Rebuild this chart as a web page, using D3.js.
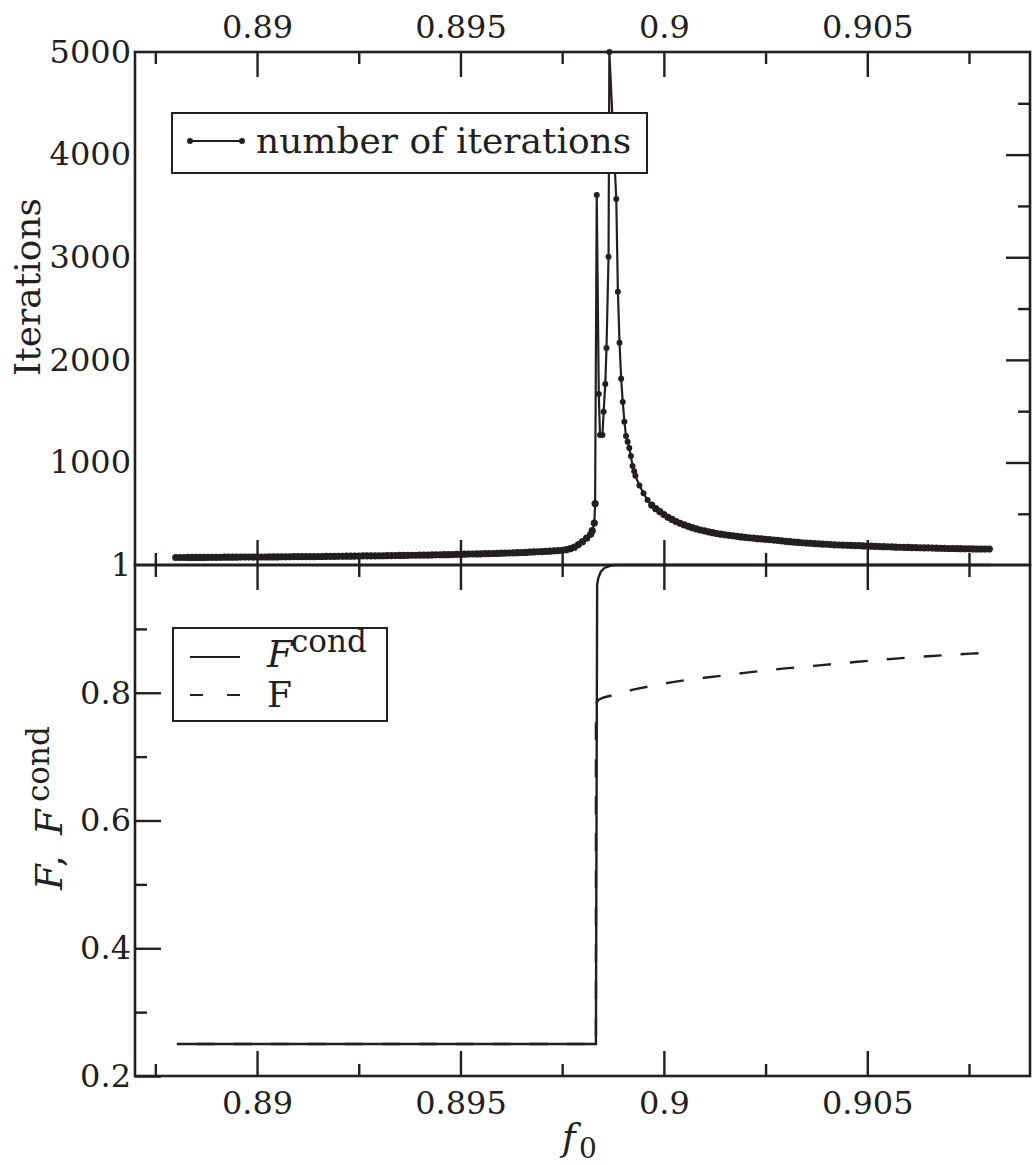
<!DOCTYPE html>
<html>
<head>
<meta charset="utf-8">
<script src="https://cdn.jsdelivr.net/npm/d3@7"></script>
<style>
  body { margin: 0; background: #fff; }
  svg text { font-family: "DejaVu Serif", serif; fill: #231f20; }
</style>
</head>
<body>
<div id="chart"></div>
<script>
// f0 positions of the iteration samples
var iterF0 = [
  0.8880, 0.8881, 0.8882, 0.8883, 0.8884, 0.8885, 0.8886, 0.8887, 0.8888, 0.8889,
  0.8890, 0.8891, 0.8892, 0.8893, 0.8894, 0.8895, 0.8896, 0.8897, 0.8898, 0.8899,
  0.8900, 0.8901, 0.8902, 0.8903, 0.8904, 0.8905, 0.8906, 0.8907, 0.8908, 0.8909,
  0.8910, 0.8911, 0.8912, 0.8913, 0.8914, 0.8915, 0.8916, 0.8917, 0.8918, 0.8919,
  0.8920, 0.8921, 0.8922, 0.8923, 0.8924, 0.8925, 0.8926, 0.8927, 0.8928, 0.8929,
  0.8930, 0.8931, 0.8932, 0.8933, 0.8934, 0.8935, 0.8936, 0.8937, 0.8938, 0.8939,
  0.8940, 0.8941, 0.8942, 0.8943, 0.8944, 0.8945, 0.8946, 0.8947, 0.8948, 0.8949,
  0.8950, 0.8951, 0.8952, 0.8953, 0.8954, 0.8955, 0.8956, 0.8957, 0.8958, 0.8959,
  0.8960, 0.8961, 0.8962, 0.8963, 0.8964, 0.8965, 0.8966, 0.8967, 0.8968, 0.8969,
  0.8970, 0.8971, 0.8972, 0.8973, 0.8974, 0.8975, 0.8976, 0.8977, 0.8978, 0.8979,
  0.8980, 0.8981, 0.8982, 0.89824, 0.89829, 0.89831,
  0.89835, 0.89840, 0.89843, 0.89849, 0.89852, 0.89856, 0.89859, 0.89864, 0.89866,
  0.89883, 0.89887, 0.89891, 0.89895, 0.89899, 0.89903, 0.89907, 0.89911, 0.89915,
  0.89919, 0.89923, 0.89927,
  0.8993, 0.8994, 0.8995, 0.8996, 0.8997, 0.8998, 0.8999,
  0.9000, 0.9001, 0.9002, 0.9003, 0.9004, 0.9005, 0.9006, 0.9007, 0.9008, 0.9009,
  0.9010, 0.9011, 0.9012, 0.9013, 0.9014, 0.9015, 0.9016, 0.9017, 0.9018, 0.9019,
  0.9020, 0.9021, 0.9022, 0.9023, 0.9024, 0.9025, 0.9026, 0.9027, 0.9028, 0.9029,
  0.9030, 0.9031, 0.9032, 0.9033, 0.9034, 0.9035, 0.9036, 0.9037, 0.9038, 0.9039,
  0.9040, 0.9041, 0.9042, 0.9043, 0.9044, 0.9045, 0.9046, 0.9047, 0.9048, 0.9049,
  0.9050, 0.9051, 0.9052, 0.9053, 0.9054, 0.9055, 0.9056, 0.9057, 0.9058, 0.9059,
  0.9060, 0.9061, 0.9062, 0.9063, 0.9064, 0.9065, 0.9066, 0.9067, 0.9068, 0.9069,
  0.9070, 0.9071, 0.9072, 0.9073, 0.9074, 0.9075, 0.9076, 0.9077, 0.9078, 0.9079,
  0.9080
];

// number of iterations at each f0 above
var iterCount = [
  74, 74, 74, 75, 75, 75, 75, 75, 76, 76,
  76, 76, 77, 77, 77, 77, 78, 78, 78, 78,
  79, 79, 79, 80, 80, 80, 81, 81, 81, 82,
  82, 82, 83, 83, 83, 84, 84, 85, 85, 85,
  86, 86, 87, 87, 88, 88, 89, 89, 90, 90,
  91, 91, 92, 92, 93, 94, 94, 95, 96, 96,
  97, 98, 98, 99, 100, 101, 102, 102, 103, 104,
  105, 106, 107, 108, 109, 110, 111, 112, 113, 114,
  116, 117, 118, 120, 121, 123, 124, 126, 128, 130,
  132, 134, 136, 139, 141, 144, 150, 160, 175, 200,
  228, 262, 300, 335, 410, 600,
  3606, 1667, 1267, 1267, 1494, 1764, 2115, 3005, 5000,
  3567, 2664, 2167, 1816, 1589, 1397, 1257, 1202, 1140,
  1062, 965, 915,
  870, 775, 700, 635, 585, 550, 522,
  492, 466, 445, 425, 408, 392, 378, 365, 353, 342,
  333, 324, 316, 308, 301, 295, 290, 285, 280, 275,
  270, 266, 262, 258, 255, 251, 248, 244, 240, 236,
  232, 228, 224, 221, 218, 215, 213, 210, 208, 205,
  203, 200, 198, 196, 195, 193, 192, 190, 189, 187,
  186, 184, 183, 181, 180, 178, 177, 175, 174, 173,
  172, 171, 170, 169, 168, 167, 166, 165, 164, 163,
  162, 162, 161, 160, 159, 159, 158, 157, 157, 156,
  156
];

// F^cond curve (solid)
var fcondF0 = [0.88803, 0.89833, 0.89836, 0.89839, 0.89845, 0.89854, 0.89866, 0.89879, 0.90804];
var fcondValues = [0.25, 0.25, 0.969, 0.980, 0.9895, 0.9953, 0.9984, 1.0, 1.0];

// F curve (dashed)
var fF0 = [0.88803, 0.89833, 0.89833, 0.89840, 0.89852, 0.89876, 0.89924, 0.89969, 0.90014,
  0.90059, 0.90104, 0.90153, 0.90198, 0.90243, 0.90292, 0.90337, 0.90382, 0.90427,
  0.90476, 0.90521, 0.90570, 0.90615, 0.90660, 0.90709, 0.90754, 0.90799];
var fValues = [0.25, 0.25, 0.7835, 0.789, 0.7926, 0.7965, 0.8049, 0.8105, 0.8158,
  0.8205, 0.8238, 0.8274, 0.8312, 0.8345, 0.8377, 0.8402, 0.8429, 0.8457,
  0.8485, 0.8510, 0.8535, 0.8557, 0.8575, 0.8596, 0.8612, 0.8628];

// tick values
var xMajorTicks = [0.89, 0.895, 0.9, 0.905];
var xMinorTicks = [0.8875, 0.8925, 0.8975, 0.9025, 0.9075];
var iterMajorTicks = [1, 1000, 2000, 3000, 4000, 5000];
var iterMinorTicks = [500, 1500, 2500, 3500, 4500];
var fMajorTicks = [0.2, 0.4, 0.6, 0.8];
var fMinorTicks = [0.3, 0.5, 0.7, 0.9];

function init() {
  var w = 1032;
  var h = 1165;
  var left = 135, right = 1030, top1 = 52, mid = 565, bottom2 = 1076;
  var ink = "#231f20";

  var svg = d3.select("#chart")
    .append("svg")
    .attr("width", w)
    .attr("height", h);

  //Set up Scales
  var xScale = d3.scaleLinear().domain([0.887, 0.909]).range([left, right]);
  var yIter = d3.scaleLinear().domain([1, 5000]).range([mid, top1]);
  var yF = d3.scaleLinear().domain([0.2, 1.0]).range([bottom2, mid]);

  function styleAxis(g, size) {
    g.select(".domain").remove();
    g.attr("font-family", null).attr("font-size", null).attr("color", ink);
    g.selectAll(".tick line").attr("stroke-width", 2.4);
    g.selectAll(".tick text").style("font-size", size + "px");
  }

  var fmt = function (d) { return String(d); };

  //Top axis (labels above, ticks inward)
  svg.append("g").attr("transform", "translate(0," + top1 + ")")
    .call(d3.axisTop(xScale).tickValues(xMajorTicks).tickSize(-25).tickPadding(14).tickFormat(fmt))
    .call(styleAxis, 32);
  svg.append("g").attr("transform", "translate(0," + top1 + ")")
    .call(d3.axisTop(xScale).tickValues(xMinorTicks).tickSize(-12).tickFormat(""))
    .call(styleAxis, 32);

  //Middle: top panel's bottom ticks (up) and bottom panel's top ticks (down)
  svg.append("g").attr("transform", "translate(0," + mid + ")")
    .call(d3.axisBottom(xScale).tickValues(xMajorTicks).tickSize(-25).tickFormat(""))
    .call(styleAxis, 32);
  svg.append("g").attr("transform", "translate(0," + mid + ")")
    .call(d3.axisBottom(xScale).tickValues(xMinorTicks).tickSize(-12).tickFormat(""))
    .call(styleAxis, 32);
  svg.append("g").attr("transform", "translate(0," + mid + ")")
    .call(d3.axisTop(xScale).tickValues(xMajorTicks).tickSize(-25).tickFormat(""))
    .call(styleAxis, 32);
  svg.append("g").attr("transform", "translate(0," + mid + ")")
    .call(d3.axisTop(xScale).tickValues(xMinorTicks).tickSize(-12).tickFormat(""))
    .call(styleAxis, 32);

  //Bottom axis (labels below, ticks up)
  svg.append("g").attr("transform", "translate(0," + bottom2 + ")")
    .call(d3.axisBottom(xScale).tickValues(xMajorTicks).tickSize(-25).tickPadding(15).tickFormat(fmt))
    .call(styleAxis, 32);
  svg.append("g").attr("transform", "translate(0," + bottom2 + ")")
    .call(d3.axisBottom(xScale).tickValues(xMinorTicks).tickSize(-12).tickFormat(""))
    .call(styleAxis, 32);

  //Top panel y: labels on left, ticks only on right
  svg.append("g").attr("transform", "translate(" + left + ",0)")
    .call(d3.axisLeft(yIter).tickValues(iterMajorTicks).tickSize(0).tickPadding(4).tickFormat(fmt))
    .call(styleAxis, 32);
  svg.append("g").attr("transform", "translate(" + right + ",0)")
    .call(d3.axisRight(yIter).tickValues(iterMajorTicks.slice(1, 5)).tickSize(-24).tickFormat(""))
    .call(styleAxis, 32);
  svg.append("g").attr("transform", "translate(" + right + ",0)")
    .call(d3.axisRight(yIter).tickValues(iterMinorTicks).tickSize(-12).tickFormat(""))
    .call(styleAxis, 32);

  //Bottom panel y: ticks inward on left
  svg.append("g").attr("transform", "translate(" + left + ",0)")
    .call(d3.axisLeft(yF).tickValues(fMajorTicks).tickSize(-26).tickPadding(4).tickFormat(fmt))
    .call(styleAxis, 32);
  svg.append("g").attr("transform", "translate(" + left + ",0)")
    .call(d3.axisLeft(yF).tickValues(fMinorTicks).tickSize(-12).tickFormat(""))
    .call(styleAxis, 32);

  //Iterations line + dots
  var iterData = iterF0.map(function (f, i) { return { f: f, n: iterCount[i] }; });
  var iterLine = d3.line()
    .x(function (d) { return xScale(d.f); })
    .y(function (d) { return yIter(d.n); });
  svg.append("path")
    .datum(iterData)
    .attr("d", iterLine)
    .attr("fill", "none")
    .attr("stroke", ink)
    .attr("stroke-width", 2.2);
  svg.selectAll("circle.iter")
    .data(iterData)
    .enter()
    .append("circle")
    .attr("class", "iter")
    .attr("cx", function (d) { return xScale(d.f); })
    .attr("cy", function (d) { return yIter(d.n); })
    .attr("r", function (d) { return d.n > 600 ? 3 : 3.6; })
    .attr("fill", ink);

  //F^cond and F curves
  var fLine = d3.line()
    .x(function (d) { return xScale(d.f); })
    .y(function (d) { return yF(d.v); });
  var fcondData = fcondF0.map(function (f, i) { return { f: f, v: fcondValues[i] }; });
  var fData = fF0.map(function (f, i) { return { f: f, v: fValues[i] }; });

  var fPath = svg.append("path")
    .datum(fData)
    .attr("d", fLine)
    .attr("fill", "none")
    .attr("stroke", ink)
    .attr("stroke-width", 2.4)
    .attr("stroke-dasharray", "18,19");
  // start a dash right at the top of the jump
  var tmp = svg.append("path").attr("d", fLine(fData.slice(0, 3)));
  var jumpLen = tmp.node().getTotalLength();
  tmp.remove();
  fPath.attr("stroke-dashoffset", -jumpLen);

  svg.append("path")
    .datum(fcondData)
    .attr("d", fLine)
    .attr("fill", "none")
    .attr("stroke", ink)
    .attr("stroke-width", 2.4);

  //Frames
  svg.append("rect")
    .attr("x", left).attr("y", top1)
    .attr("width", right - left).attr("height", mid - top1)
    .attr("fill", "none").attr("stroke", ink).attr("stroke-width", 2.6);
  svg.append("rect")
    .attr("x", left).attr("y", mid)
    .attr("width", right - left).attr("height", bottom2 - mid)
    .attr("fill", "none").attr("stroke", ink).attr("stroke-width", 2.6);

  //Axis titles
  svg.append("text")
    .attr("transform", "translate(40,287) rotate(-90)")
    .attr("text-anchor", "middle")
    .style("font-size", "36px")
    .text("Iterations");

  var ft = svg.append("text")
    .attr("transform", "translate(62,890) rotate(-90)")
    .style("font-size", "37px");
  ft.append("tspan").attr("x", 0).style("font-style", "italic").text("F");
  ft.append("tspan").attr("x", 23).text(",");
  ft.append("tspan").attr("x", 55).style("font-style", "italic").text("F");
  ft.append("tspan").attr("x", 88).attr("dy", -13).style("font-size", "31px").text("cond");

  svg.append("text")
    .attr("x", 562).attr("y", 1150)
    .style("font-size", "37px").style("font-style", "italic")
    .text("f");
  svg.append("text")
    .attr("x", 579).attr("y", 1158)
    .style("font-size", "28px")
    .text("0");

  //Top legend
  svg.append("rect")
    .attr("x", 172).attr("y", 113).attr("width", 475).attr("height", 60)
    .attr("fill", "#fff").attr("stroke", ink).attr("stroke-width", 2);
  svg.append("line")
    .attr("x1", 190).attr("y1", 141).attr("x2", 242).attr("y2", 141)
    .attr("stroke", ink).attr("stroke-width", 2);
  svg.selectAll("circle.leg")
    .data([190, 242])
    .enter()
    .append("circle")
    .attr("class", "leg")
    .attr("cx", function (d) { return d; })
    .attr("cy", 141)
    .attr("r", 3)
    .attr("fill", ink);
  svg.append("text")
    .attr("x", 256).attr("y", 153)
    .style("font-size", "36px")
    .text("number of iterations");

  //Bottom legend
  svg.append("rect")
    .attr("x", 173).attr("y", 628).attr("width", 214).attr("height", 93)
    .attr("fill", "#fff").attr("stroke", ink).attr("stroke-width", 2);
  svg.append("line")
    .attr("x1", 190).attr("y1", 657).attr("x2", 240).attr("y2", 657)
    .attr("stroke", ink).attr("stroke-width", 2.2);
  svg.append("line")
    .attr("x1", 190).attr("y1", 695).attr("x2", 240).attr("y2", 695)
    .attr("stroke", ink).attr("stroke-width", 2.2)
    .attr("stroke-dasharray", "13,24");
  var lt = svg.append("text").attr("x", 267).attr("y", 667).style("font-size", "37px");
  lt.append("tspan").style("font-style", "italic").text("F");
  lt.append("tspan").attr("x", 291).attr("dy", -15).style("font-size", "31px").text("cond");
  svg.append("text")
    .attr("x", 267).attr("y", 707)
    .style("font-size", "36px")
    .text("F");
}

function main() {
  init();
}

window.onload = function () {
  main();
}
</script>
</body>
</html>
